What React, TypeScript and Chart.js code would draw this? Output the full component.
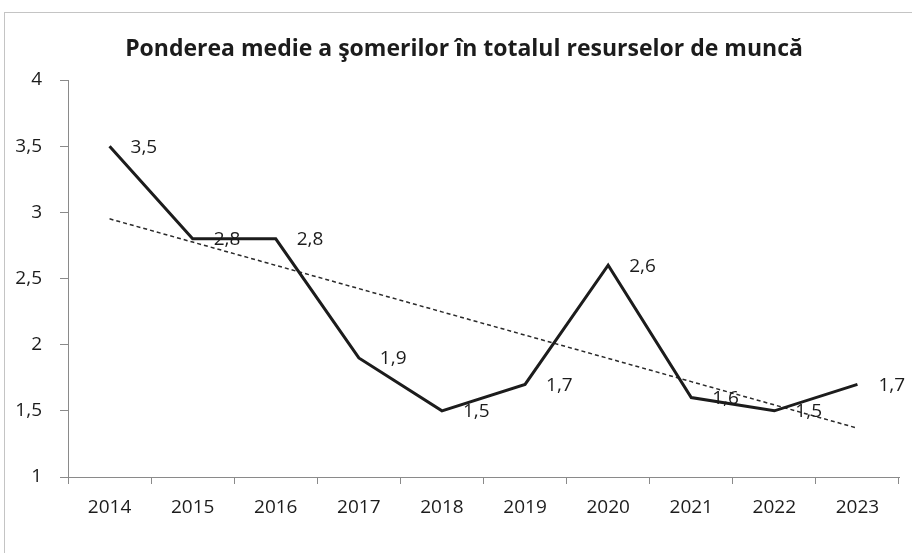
import React, { useEffect, useRef } from "react";
import { Chart, registerables } from "chart.js";

Chart.register(...registerables);

const TITLE = "Ponderea medie a şomerilor în totalul resurselor de muncă";
const YEARS = ["2014", "2015", "2016", "2017", "2018", "2019", "2020", "2021", "2022", "2023"];
const VALUES = [3.5, 2.8, 2.8, 1.9, 1.5, 1.7, 2.6, 1.6, 1.5, 1.7];
const Y_MIN = 1;
const Y_MAX = 4;
const Y_STEP = 0.5;

const FONT = "'Open Sans', 'DejaVu Sans', sans-serif";
const TEXT = "#1c1c1c";
const AXIS = "#8a8a8a";

// Linear (least-squares) trendline derived from the data, like Excel's trendline
function linearTrend(vals: number[]): number[] {
  const n = vals.length;
  const mx = (n - 1) / 2;
  const my = vals.reduce((a, b) => a + b, 0) / n;
  let sxy = 0;
  let sxx = 0;
  vals.forEach((v, i) => {
    sxy += (i - mx) * (v - my);
    sxx += (i - mx) * (i - mx);
  });
  const slope = sxy / sxx;
  const intercept = my - slope * mx;
  return vals.map((_, i) => intercept + slope * i);
}

const fmt = (v: number) => String(v).replace(".", ",");

const overlayPlugin = {
  id: "overlay",
  afterDatasetsDraw(chart: any) {
    const ctx = chart.ctx;
    ctx.save();
    // data labels (right of each point)
    const meta = chart.getDatasetMeta(0);
    ctx.font = `19px ${FONT}`;
    ctx.fillStyle = TEXT;
    ctx.textAlign = "left";
    ctx.textBaseline = "middle";
    meta.data.forEach((pt: any, i: number) => {
      ctx.fillText(fmt(VALUES[i]), pt.x + 21, pt.y + 1);
    });
    // title
    ctx.font = `bold 23px ${FONT}`;
    ctx.textAlign = "center";
    ctx.textBaseline = "middle";
    ctx.fillStyle = TEXT;
    ctx.fillText(TITLE, 464, 49);
    ctx.restore();
  },
};

export default function App() {
  const ref = useRef<HTMLCanvasElement | null>(null);

  useEffect(() => {
    document.body.style.margin = "0";
    const canvas = ref.current;
    if (!canvas) return;
    const chart = new Chart(canvas, {
      type: "line",
      data: {
        labels: YEARS,
        datasets: [
          {
            data: VALUES,
            borderColor: "#1c1c1c",
            borderWidth: 3,
            pointRadius: 0,
            tension: 0,
            fill: false,
          },
          {
            data: linearTrend(VALUES),
            borderColor: "#2a2a2a",
            borderWidth: 1.5,
            borderDash: [4, 3],
            pointRadius: 0,
            tension: 0,
            fill: false,
          },
        ],
      },
      options: {
        responsive: false,
        animation: false,
        devicePixelRatio: 1,
        layout: { padding: { top: 80, left: 0, right: 13, bottom: 0 } },
        plugins: {
          legend: { display: false },
          title: { display: false },
          tooltip: { enabled: false },
        },
        scales: {
          x: {
            type: "category",
            offset: true,
            grid: {
              offset: true,
              drawOnChartArea: false,
              drawTicks: true,
              tickLength: 7,
              color: AXIS,
            },
            border: { display: true, color: AXIS, width: 1 },
            ticks: {
              color: TEXT,
              font: { family: FONT, size: 19 },
              padding: 12,
              maxRotation: 0,
            },
            afterFit(scale: any) {
              scale.height = 76;
            },
          },
          y: {
            min: Y_MIN,
            max: Y_MAX,
            grid: {
              drawOnChartArea: false,
              drawTicks: true,
              tickLength: 8,
              color: AXIS,
            },
            border: { display: true, color: AXIS, width: 1 },
            ticks: {
              stepSize: Y_STEP,
              color: TEXT,
              font: { family: FONT, size: 19 },
              padding: 18,
              callback: (v: any) => fmt(Number(v)),
            },
            afterFit(scale: any) {
              scale.width = 68;
            },
          },
        },
      },
      plugins: [overlayPlugin],
    });
    return () => chart.destroy();
  }, []);

  return (
    <div style={{ position: "relative", width: 912, height: 553, overflow: "hidden", background: "#ffffff" }}>
      <div
        style={{
          position: "absolute",
          left: 4,
          top: 12,
          width: 1000,
          height: 1000,
          borderLeft: "1px solid #c4c4c4",
          borderTop: "1px solid #c4c4c4",
        }}
      />
      <canvas ref={ref} width={912} height={553} style={{ position: "absolute", left: 0, top: 0 }} />
    </div>
  );
}
